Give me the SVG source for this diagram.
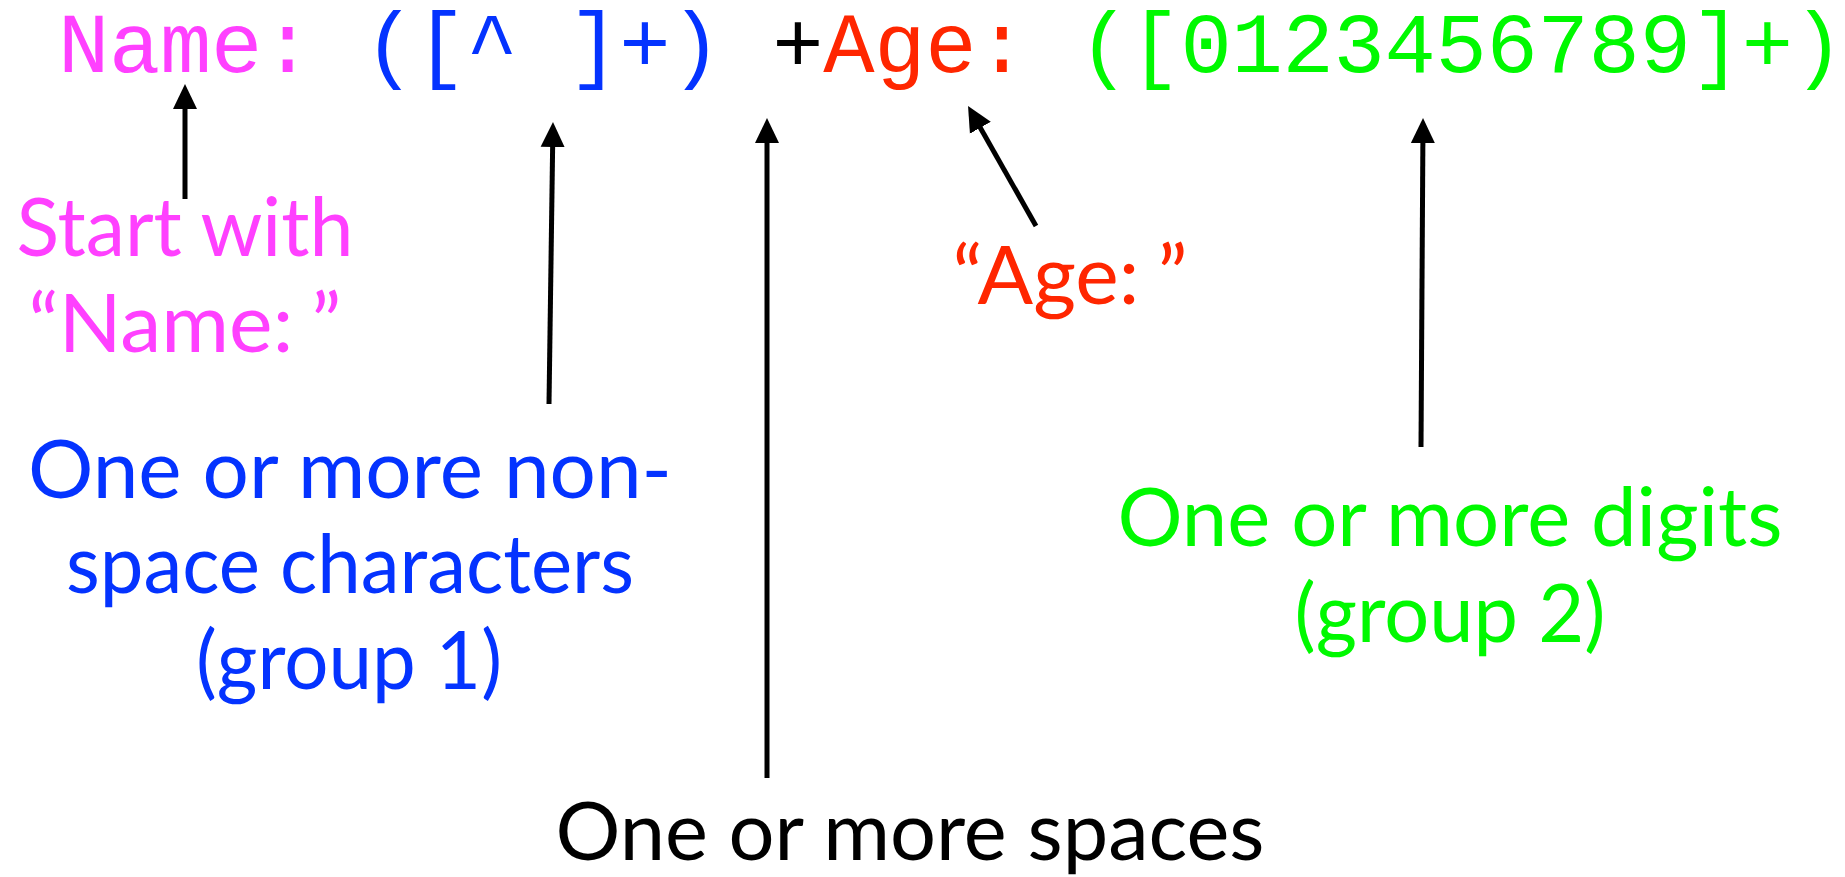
<svg xmlns="http://www.w3.org/2000/svg" width="1845" height="877" viewBox="0 0 1845 877">
  <style>
    .code { font-family: "Liberation Mono", "Courier New", monospace; font-size: 85.5px; white-space: pre; }
    .label { font-family: Lato, "Open Sans", sans-serif; font-size: 82px; text-anchor: middle; }
    .pink { fill: #FF40FF; }
    .blue { fill: #0433FF; }
    .red { fill: #FF2600; }
    .green { fill: #00F900; }
    .black { fill: #000000; }
    .arrow { stroke: #000000; stroke-width: 5; fill: none; marker-end: url(#head); }
  </style>
  <defs>
    <marker id="head" markerUnits="userSpaceOnUse" markerWidth="26" markerHeight="26" refX="5" refY="12" orient="auto" viewBox="0 0 26 24">
      <path d="M0,0 L25,12 L0,24 z" fill="#000000"/>
    </marker>
  </defs>
  <rect width="1845" height="877" fill="#FFFFFF"/>

  <!-- the regular expression -->
  <g id="regex">
    <text class="code" x="58" y="72" textLength="1786" lengthAdjust="spacing"><tspan class="pink">Name:</tspan> <tspan class="blue">([^ ]+)</tspan> <tspan class="black">+</tspan><tspan class="red">Age:</tspan> <tspan class="green">([0123456789]+)</tspan></text>
  </g>

  <!-- annotations -->
  <g id="note-name">
    <text class="label pink" x="185" y="256" textLength="337" lengthAdjust="spacingAndGlyphs">Start with</text>
    <text class="label pink" x="185" y="352" textLength="313" lengthAdjust="spacingAndGlyphs">“Name:<tspan dx="18">”</tspan></text>
  </g>
  <g id="note-group1">
    <text class="label blue" x="350" y="498" textLength="644" lengthAdjust="spacingAndGlyphs">One or more non-</text>
    <text class="label blue" x="350" y="593" textLength="568" lengthAdjust="spacingAndGlyphs">space characters</text>
    <text class="label blue" x="349" y="689" textLength="306" lengthAdjust="spacingAndGlyphs">(group 1)</text>
  </g>
  <g id="note-spaces">
    <text class="label black" x="910" y="860" textLength="709" lengthAdjust="spacingAndGlyphs">One or more spaces</text>
  </g>
  <g id="note-age">
    <text class="label red" x="1070" y="304" textLength="235" lengthAdjust="spacingAndGlyphs">“Age:<tspan dx="18">”</tspan></text>
  </g>
  <g id="note-group2">
    <text class="label green" x="1450" y="546" textLength="665" lengthAdjust="spacingAndGlyphs">One or more digits</text>
    <text class="label green" x="1450" y="642" textLength="311" lengthAdjust="spacingAndGlyphs">(group 2)</text>
  </g>

  <!-- pointers from each note up to its part of the expression -->
  <g id="connectors">
    <line class="arrow" x1="185" y1="199" x2="185" y2="104"/>
    <line class="arrow" x1="549" y1="404" x2="552.7" y2="142"/>
    <line class="arrow" x1="767" y1="778" x2="767" y2="138"/>
    <line class="arrow" x1="1036" y1="226" x2="977.9" y2="123.4"/>
    <line class="arrow" x1="1421" y1="447" x2="1422.9" y2="138"/>
  </g>
</svg>
